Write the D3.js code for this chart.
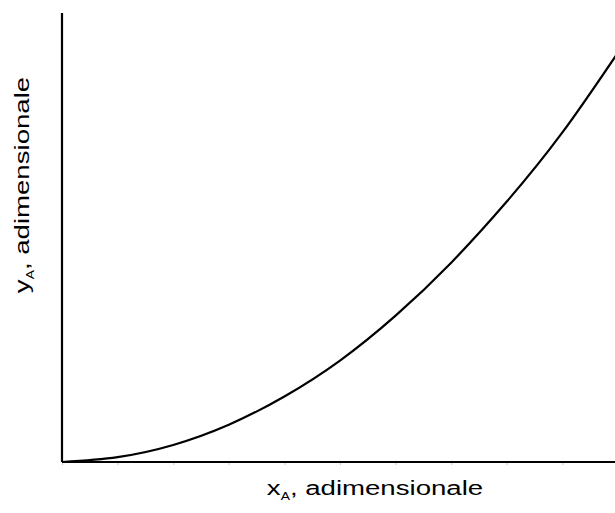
<!DOCTYPE html>
<html>
<head>
<meta charset="utf-8">
<script src="https://cdn.jsdelivr.net/npm/d3@7"></script>
<style>
  body { margin: 0; background: #fff; }
  svg { display: block; font-family: Arial, "Liberation Sans", sans-serif; }
</style>
</head>
<body>
<div id="chart"></div>
<script>
// setting up constants
const FRAME_WIDTH = 615;
const FRAME_HEIGHT = 513;

// data
const xValues = [0, 0.1, 0.2, 0.3, 0.4, 0.5, 0.6, 0.7, 0.8, 0.9, 1.0];
const yValues = [0, 0.011, 0.038, 0.083, 0.146, 0.226, 0.326, 0.444, 0.58, 0.734, 0.912];
const xTicks = [0, 0.1, 0.2, 0.3, 0.4, 0.5, 0.6, 0.7, 0.8, 0.9, 1.0];

const svg = d3.select('#chart')
  .append('svg')
  .attr('width', FRAME_WIDTH)
  .attr('height', FRAME_HEIGHT);

// scales
const x = d3.scaleLinear().domain([0, 1]).range([62, 618]);
const y = d3.scaleLinear().domain([0, 1]).range([462, 13]);

// faint tick marks on the x axis
const xAxis = svg.append('g')
  .attr('transform', `translate(0, ${y(0)})`)
  .call(d3.axisBottom(x).tickValues(xTicks).tickSize(3).tickFormat(''));
xAxis.select('.domain').remove();
xAxis.selectAll('line').attr('stroke', '#c8c8c8').attr('stroke-width', 1);

// axis lines
svg.append('line')
  .attr('x1', x(0)).attr('x2', x(1))
  .attr('y1', y(0)).attr('y2', y(0))
  .attr('stroke', '#000').attr('stroke-width', 2.2);

svg.append('line')
  .attr('x1', x(0)).attr('x2', x(0))
  .attr('y1', y(1)).attr('y2', y(0))
  .attr('stroke', '#000').attr('stroke-width', 2.2);

// the curve
const pts = xValues.map((d, i) => ({x: d, y: yValues[i]}));
svg.append('path')
  .datum(pts)
  .attr('fill', 'none')
  .attr('stroke', '#000')
  .attr('stroke-width', 2.2)
  .attr('d', d3.line()
    .x(d => x(d.x))
    .y(d => y(d.y))
    .curve(d3.curveNatural));

// labels (the original text is stretched sideways)
function label(t, main, sub, rest) {
  t.attr('text-anchor', 'middle').attr('font-size', 20);
  t.append('tspan').text(main);
  t.append('tspan').attr('font-size', 10).attr('dy', 5).text(sub);
  t.append('tspan').attr('dy', -5).text(rest);
}

label(svg.append('text')
  .attr('transform', 'translate(375, 495) scale(1.38, 1)'),
  'x', 'A', ', adimensionale');

label(svg.append('text')
  .attr('transform', 'translate(29, 185) rotate(-90) scale(1.38, 1)'),
  'y', 'A', ', adimensionale');
</script>
</body>
</html>
